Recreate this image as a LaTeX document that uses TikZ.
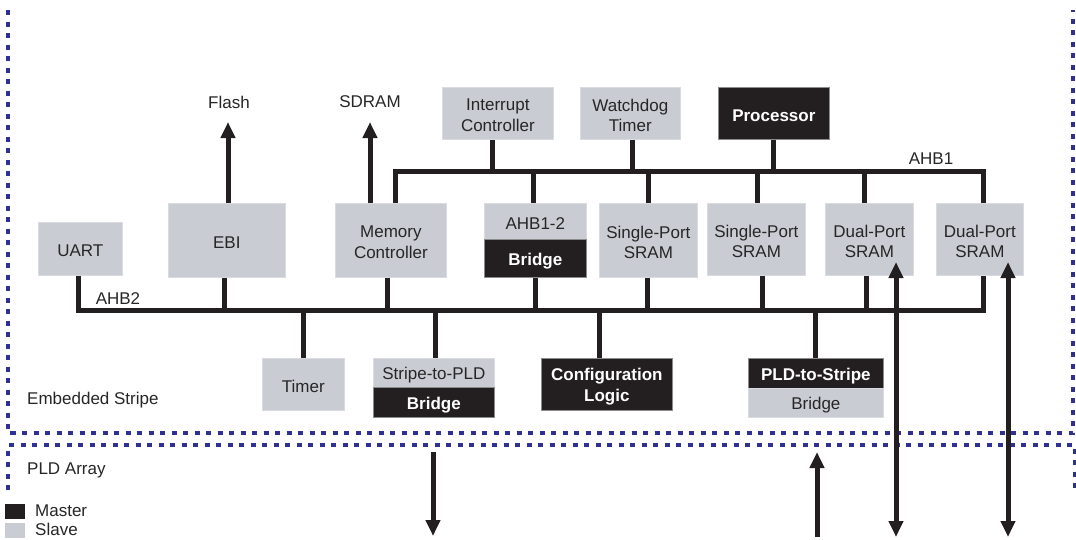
\documentclass[tikz,border=0pt]{standalone}
\usepackage{fontspec}
\setmainfont{Liberation Sans}
\usetikzlibrary{arrows.meta}
\definecolor{slavec}{RGB}{201,204,211}
\definecolor{masterc}{RGB}{35,31,32}
\definecolor{navyc}{RGB}{46,49,146}
\begin{document}
\begin{tikzpicture}[x=1pt,y=-1pt,
  font=\fontsize{17}{20.5}\selectfont,
  box/.style={anchor=north west, inner sep=0pt, line width=0.7pt},
  slavebox/.style={box, fill=slavec, draw=slavec!70!white,
    label={[inner sep=0pt, align=center, text=black!85, yshift=-2pt]center:#1}},
  masterbox/.style={box, fill=masterc, draw=black!45,
    label={[inner sep=0pt, align=center, text=white, font=\fontsize{17}{20.5}\selectfont\bfseries, yshift=-2.5pt]center:#1}},
  bus/.style={line width=5pt, draw=masterc},
  arr/.style={line width=5pt, draw=masterc, -{Triangle[width=14pt,length=16pt]}},
  darr/.style={line width=5pt, draw=masterc, {Triangle[width=14pt,length=16pt]}-{Triangle[width=14pt,length=16pt]}},
  border/.style={draw=navyc, line width=3.5pt, dash pattern=on 5pt off 6.5pt},
  lbl/.style={inner sep=0pt, text=black!85}
]
\useasboundingbox (0,0) rectangle (1076,539);

% regions
\draw[border] (8,10) -- (8,433) -- (1073,433) -- (1073,10);
\draw[border] (8,490) -- (8,445) -- (1075,445) -- (1075,490);

% boxes
\node[slavebox={UART}, minimum width=84pt, minimum height=53pt] (uart) at (38,222) {};
\node[slavebox={EBI}, minimum width=117pt, minimum height=74pt] (ebi) at (168,203) {};
\node[slavebox={Memory\\Controller}, minimum width=111pt, minimum height=74pt] (mc) at (335,203) {};
\node[slavebox={Interrupt\\Controller}, minimum width=111pt, minimum height=52pt] (ic) at (442,87) {};
\node[slavebox={Watchdog\\Timer}, minimum width=100pt, minimum height=52pt] (wd) at (580,87) {};
\node[masterbox={Processor}, minimum width=111pt, minimum height=52pt] (proc) at (718,87) {};
\node[slavebox={AHB1-2}, minimum width=102pt, minimum height=36pt] (ahbt) at (484,203) {};
\node[masterbox={Bridge}, minimum width=102pt, minimum height=38pt] (ahbb) at (484,239) {};
\node[slavebox={Single-Port\\SRAM}, minimum width=98pt, minimum height=74pt] (sp1) at (599,203) {};
\node[slavebox={Single-Port\\SRAM}, minimum width=98pt, minimum height=72pt] (sp2) at (707,203) {};
\node[slavebox={Dual-Port\\SRAM}, minimum width=88pt, minimum height=72pt] (dp1) at (825,203) {};
\node[slavebox={Dual-Port\\SRAM}, minimum width=87pt, minimum height=72pt] (dp2) at (936,203) {};
\node[slavebox={Timer}, minimum width=82pt, minimum height=52pt] (timer) at (262,358) {};
\node[slavebox={Stripe-to-PLD}, minimum width=121pt, minimum height=29pt] (s2pt) at (373,358) {};
\node[masterbox={Bridge}, minimum width=121pt, minimum height=30pt] (s2pb) at (373,387) {};
\node[masterbox={Configuration\\Logic}, minimum width=131pt, minimum height=52pt] (cfg) at (541,358) {};
\node[masterbox={PLD-to-Stripe}, minimum width=135pt, minimum height=30pt] (p2st) at (748,358) {};
\node[slavebox={Bridge}, minimum width=135pt, minimum height=29pt] (p2sb) at (748,388) {};

% labels
\node[lbl] (flash) at (229,102) {Flash};
\node[lbl] (sdram) at (370,102) {SDRAM};
\node[lbl] (ahb1l) at (931,159) {AHB1};
\node[lbl] (ahb2l) at (118,299) {AHB2};
\node[lbl, anchor=west] (es) at (27,400.5) {Embedded Stripe};
\node[lbl, anchor=west] (pld) at (27,470.5) {PLD Array};
\node[box, fill=masterc, minimum width=20pt, minimum height=15pt] (mkey) at (5,504) {};
\node[box, fill=slavec, minimum width=20pt, minimum height=15pt] (skey) at (5,523) {};
\node[lbl, anchor=west] (mtxt) at (35,510.5) {Master};
\node[lbl, anchor=west] (stxt) at (35,529.5) {Slave};

% bus reference coordinates
\coordinate (b1) at (0,171);
\coordinate (b2) at (0,310);

% AHB1
\draw[bus] ([xshift=4.5pt]mc.north) |- ([xshift=3.5pt]dp2.north |- b1) -- ([xshift=3.5pt]dp2.north);
\draw[bus] ([xshift=-5.5pt]ic.south) -- ([xshift=-5.5pt]ic.south |- b1);
\draw[bus] ([xshift=2pt]wd.south) -- ([xshift=2pt]wd.south |- b1);
\draw[bus] (proc.south) -- (proc.south |- b1);
\draw[bus] ([xshift=-2pt]ahbt.north) -- ([xshift=-2pt]ahbt.north |- b1);
\draw[bus] (sp1.north) -- (sp1.north |- b1);
\draw[bus] ([xshift=1pt]sp2.north) -- ([xshift=1pt]sp2.north |- b1);
\draw[bus] ([xshift=-5pt]dp1.north) -- ([xshift=-5pt]dp1.north |- b1);

% AHB2
\draw[bus] ([xshift=-2pt]uart.south) |- ([xshift=3.5pt]dp2.south |- b2) -- ([xshift=3.5pt]dp2.south);
\draw[bus] ([xshift=-2.5pt]ebi.south) -- ([xshift=-2.5pt]ebi.south |- b2);
\draw[bus] ([xshift=-3.5pt]mc.south) -- ([xshift=-3.5pt]mc.south |- b2);
\draw[bus] (ahbb.south) -- (ahbb.south |- b2);
\draw[bus] ([xshift=-1pt]sp1.south) -- ([xshift=-1pt]sp1.south |- b2);
\draw[bus] ([xshift=6pt]sp2.south) -- ([xshift=6pt]sp2.south |- b2);
\draw[bus] ([xshift=-3pt]dp1.south) -- ([xshift=-3pt]dp1.south |- b2);
\draw[bus] (timer.north) -- (timer.north |- b2);
\draw[bus] ([xshift=1.5pt]s2pt.north) -- ([xshift=1.5pt]s2pt.north |- b2);
\draw[bus] ([xshift=-7.5pt]cfg.north) -- ([xshift=-7.5pt]cfg.north |- b2);
\draw[bus] ([xshift=-0.5pt]p2st.north) -- ([xshift=-0.5pt]p2st.north |- b2);

% external arrows
\coordinate (flashtip) at (228,122);
\coordinate (sdramtip) at (370,122);
\draw[arr] (ebi.north -| flashtip) -- (flashtip);
\draw[arr] (mc.north -| sdramtip) -- (sdramtip);

\coordinate (s2pin) at (433,452);
\coordinate (s2pout) at (433,536);
\draw[arr] (s2pin) -- (s2pout);
\coordinate (p2sin) at (817,537);
\coordinate (p2sout) at (817,452);
\draw[arr] (p2sin) -- (p2sout);

\coordinate (dp1in) at (896,262);
\coordinate (dp1out) at (896,537);
\draw[darr] (dp1out) -- (dp1in);
\coordinate (dp2in) at (1008,262);
\coordinate (dp2out) at (1008,537);
\draw[darr] (dp2out) -- (dp2in);
\end{tikzpicture}
\end{document}
